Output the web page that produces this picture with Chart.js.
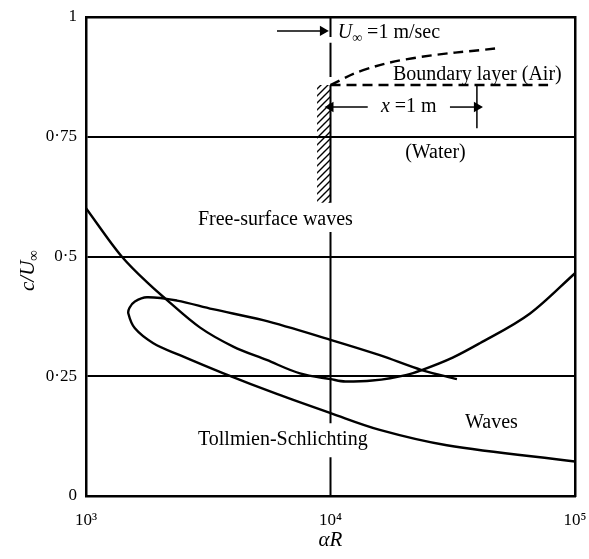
<!DOCTYPE html>
<html><head><meta charset="utf-8">
<script src="https://cdn.jsdelivr.net/npm/chart.js@4.4.0/dist/chart.umd.min.js"></script>
<style>html,body{margin:0;padding:0;background:#fff;} #wrap{width:589px;height:559px;position:relative;}</style>
</head><body><div id="wrap"><canvas id="c"></canvas></div>
<script>
// ---------- data ----------
const xTickValues = [1000, 10000, 100000];
const xTickLabels = ['10³', '10⁴', '10⁵'];
const yTickValues = [0, 0.25, 0.5, 0.75, 1];
const yTickLabels = ['0', '0·25', '0·5', '0·75', '1'];

// Free-surface (capillary-gravity) waves
const freeSurfaceAlphaR = [1000, 1400, 1830, 2100, 2920, 4000, 5480, 7500, 10000, 11500, 14800, 20500, 23600, 31600, 40800, 65500, 100000];
const freeSurfaceC      = [0.601, 0.5, 0.44, 0.413, 0.352, 0.312, 0.284, 0.256, 0.244, 0.239, 0.241, 0.253, 0.263, 0.289, 0.319, 0.381, 0.465];

// Tollmien-Schlichting neutral curve (upper branch -> nose -> lower branch)
const tsAlphaR = [32900, 23600, 15900, 10000, 5300, 3300, 2355, 1775, 1585, 1507, 1490, 1585, 1885, 2420, 3650, 6030, 10000, 15900, 29900, 100000];
const tsC      = [0.244, 0.263, 0.294, 0.326, 0.367, 0.39, 0.408, 0.415, 0.406, 0.393, 0.381, 0.35, 0.319, 0.294, 0.256, 0.213, 0.173, 0.138, 0.106, 0.072];

// Sketch: plate position and vertical reference line segments (c values)
const plateAlphaR = 10000;
const plateLineSegments = [[1.0, 0.958], [0.946, 0.875], [0.858, 0.612], [0.551, 0.152], [0.081, 0.0]];

// Boundary layer edge (dashed)
const blAlphaR = [10000, 13600, 21700, 48400];
const blC      = [0.858, 0.889, 0.914, 0.935];
// Boundary layer reference line (dashed, horizontal)
const blRefAlphaR = [10000, 77600];
const blRefC      = [0.858, 0.858];
// x = 1 m dimension arrow
const dimLeftAlphaR  = [10000, 14200];
const dimRightAlphaR = [30800, 39700];
const dimC = 0.812;
const dimTickAlphaR = [39700, 39700];
const dimTickC      = [0.858, 0.768];
// U-infinity arrow
const uArrowAlphaR = [6040, 9310];
const uArrowC = 0.971;
// hatched wall
const wallAlphaR = [8810, 10000];
const wallTopC = 0.858;
const wallBottomC = 0.612;

// ---------- styling helpers ----------
const SERIF = '"Liberation Serif", "DejaVu Serif", serif';
function pts(xs, ys) { return xs.map((x, i) => ({x: x, y: Array.isArray(ys) ? ys[i] : ys})); }
function segs(x, list) {
  const out = [];
  list.forEach((s, i) => { if (i) out.push({x: x, y: null}); out.push({x: x, y: s[0]}, {x: x, y: s[1]}); });
  return out;
}
function hatch() {
  const c = document.createElement('canvas'); c.width = 7; c.height = 7;
  const g = c.getContext('2d');
  g.strokeStyle = '#000'; g.lineWidth = 1.4; g.lineCap = 'square';
  g.beginPath();
  g.moveTo(0, 7); g.lineTo(7, 0);
  g.moveTo(-1, 1); g.lineTo(1, -1);
  g.moveTo(6, 8); g.lineTo(8, 6);
  g.stroke();
  return g.createPattern(c, 'repeat');
}
const base = {showLine: true, pointRadius: 0, borderColor: '#000', backgroundColor: '#000', fill: false, spanGaps: false};

// ---------- annotations (text) ----------
const textLabels = [
  {pieces: [{t: 'Free-surface waves'}], x: 2870, y: 0.576},
  {pieces: [{t: 'Tollmien-Schlichting'}], x: 2870, y: 0.117},
  {pieces: [{t: 'Waves'}], x: 35500, y: 0.152},
  {pieces: [{t: 'Boundary layer (Air)'}], x: 18000, y: 0.879},
  {pieces: [{t: '(Water)'}], x: 20200, y: 0.716},
  {pieces: [{t: 'U', it: true}, {t: '∞', sub: true}, {t: ' =1 m/sec'}], x: 10700, y: 0.967},
  {pieces: [{t: 'x', it: true}, {t: ' =1 m'}], x: 20900, y: 0.812, center: true}
];

function drawPieces(ctx, pieces, x, y, size, center) {
  const fontOf = p => (p.it ? 'italic ' : '') + (p.sub ? Math.round(size * 0.7) : size) + 'px ' + SERIF;
  let w = 0;
  pieces.forEach(p => { ctx.font = fontOf(p); w += ctx.measureText(p.t).width; });
  let cx = center ? x - w / 2 : x;
  pieces.forEach(p => {
    ctx.font = fontOf(p);
    ctx.fillText(p.t, cx, y + (p.sub ? size * 0.3 : 0));
    cx += ctx.measureText(p.t).width;
  });
}

const textPlugin = {
  id: 'texts',
  afterDatasetsDraw(chart) {
    const ctx = chart.ctx, xs = chart.scales.x, ys = chart.scales.y;
    ctx.save();
    ctx.fillStyle = '#000';
    ctx.textBaseline = 'middle';
    ctx.textAlign = 'left';
    textLabels.forEach(l => {
      drawPieces(ctx, l.pieces, xs.getPixelForValue(l.x), ys.getPixelForValue(l.y), 20, l.center);
    });
    // y-axis title c/U∞ (rotated)
    ctx.translate(chart.chartArea.left - 58, (chart.chartArea.top + chart.chartArea.bottom) / 2 + 14);
    ctx.rotate(-Math.PI / 2);
    drawPieces(ctx, [{t: 'c/U', it: true}, {t: '∞', sub: true}], 0, 0, 21, true);
    ctx.restore();
  }
};

const datasets = [
  Object.assign({}, base, {data: pts(freeSurfaceAlphaR, freeSurfaceC), borderWidth: 2.4, cubicInterpolationMode: 'monotone'}),
  Object.assign({}, base, {data: pts(tsAlphaR, tsC), borderWidth: 2.4, tension: 0.35}),
  Object.assign({}, base, {data: segs(plateAlphaR, plateLineSegments), borderWidth: 2}),
  Object.assign({}, base, {data: pts(blAlphaR, blC), borderWidth: 2.4, tension: 0.4, borderDash: [10, 6]}),
  Object.assign({}, base, {data: pts(blRefAlphaR, blRefC), borderWidth: 2.4, borderDash: [10, 6]}),
  Object.assign({}, base, {data: pts(dimLeftAlphaR, dimC), borderWidth: 1.5, pointRadius: [4.5, 0], pointStyle: 'triangle', rotation: [-90, 0]}),
  Object.assign({}, base, {data: pts(dimRightAlphaR, dimC), borderWidth: 1.5, pointRadius: [0, 4.5], pointStyle: 'triangle', rotation: [0, 90]}),
  Object.assign({}, base, {data: pts(dimTickAlphaR, dimTickC), borderWidth: 1.5}),
  Object.assign({}, base, {data: pts(uArrowAlphaR, uArrowC), borderWidth: 1.5, pointRadius: [0, 4.5], pointStyle: 'triangle', rotation: [0, 90]}),
  Object.assign({}, base, {data: pts(wallAlphaR, wallTopC), borderWidth: 0}),
  Object.assign({}, base, {data: pts(wallAlphaR, wallBottomC), borderWidth: 0, fill: '-1', backgroundColor: hatch()})
];

new Chart(document.getElementById('c'), {
  type: 'scatter',
  data: {datasets: datasets},
  options: {
    responsive: true, maintainAspectRatio: false, animation: false, events: [],
    layout: {padding: 0},
    plugins: {legend: {display: false}, tooltip: {enabled: false}},
    scales: {
      x: {
        type: 'logarithmic', position: 'bottom', min: 1000, max: 100000,
        afterBuildTicks: s => { s.ticks = xTickValues.map(v => ({value: v})); },
        afterFit: s => { s.height = 63; s.paddingLeft = 0; s.paddingRight = 0; },
        grid: {display: false, drawTicks: false},
        border: {display: true, color: '#000', width: 2.5},
        ticks: {color: '#000', padding: 14, maxRotation: 0, autoSkip: false,
          font: {family: SERIF, size: 17},
          callback: v => xTickLabels[xTickValues.indexOf(v)]},
        title: {display: true, text: 'αR', color: '#000', padding: {top: 0, bottom: 6},
          font: {family: SERIF, size: 21, style: 'italic'}}
      },
      y: {
        type: 'linear', position: 'left', min: 0, max: 1,
        afterBuildTicks: s => { s.ticks = yTickValues.map(v => ({value: v})); },
        afterFit: s => { s.width = 86; s.paddingTop = 0; s.paddingBottom = 0; },
        grid: {display: true, color: '#000', lineWidth: 2, drawTicks: false},
        border: {display: true, color: '#000', width: 2.5},
        ticks: {color: '#000', padding: 9, font: {family: SERIF, size: 17},
          callback: v => yTickLabels[yTickValues.indexOf(v)]}
      },
      xTop: {
        type: 'linear', position: 'top', min: 0, max: 1,
        afterFit: s => { s.height = 17; s.paddingLeft = 0; s.paddingRight = 0; },
        grid: {display: false, drawTicks: false},
        border: {display: true, color: '#000', width: 2.5},
        ticks: {display: false}
      },
      yRight: {
        type: 'linear', position: 'right', min: 0, max: 1,
        afterFit: s => { s.width = 14; s.paddingTop = 0; s.paddingBottom = 0; },
        grid: {display: false, drawTicks: false},
        border: {display: true, color: '#000', width: 2.5},
        ticks: {display: false}
      }
    }
  },
  plugins: [textPlugin]
});
</script>
</body></html>
